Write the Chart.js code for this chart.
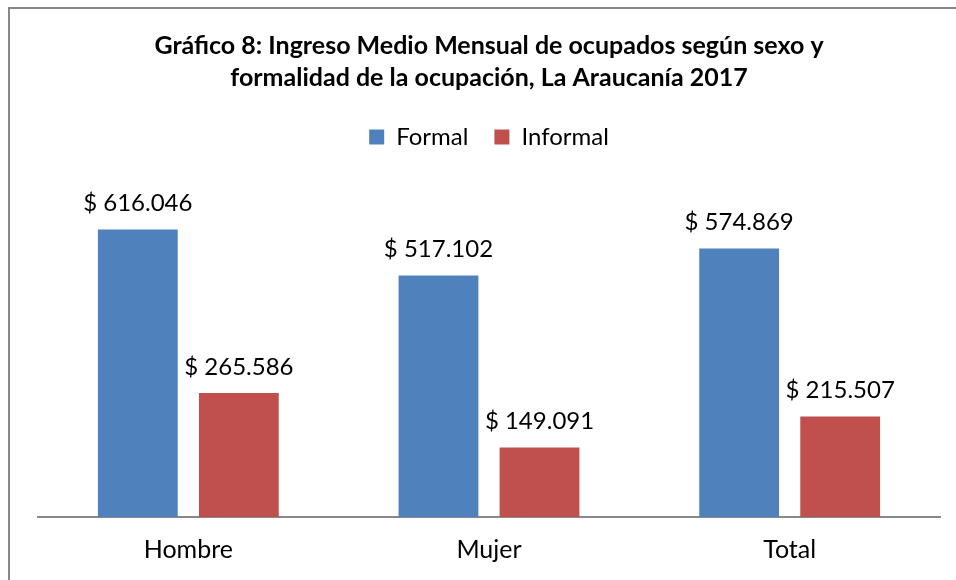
<!DOCTYPE html>
<html>
<head>
<meta charset="utf-8">
<script src="https://cdn.jsdelivr.net/npm/chart.js@4.4.0/dist/chart.umd.min.js"></script>
<style>
    html, body { margin: 0; padding: 0; background: #fff; }
    #wrap { position: relative; width: 956px; height: 580px; overflow: hidden; }
    #frame {
        position: absolute; left: 8px; top: 7px; width: 960px; height: 600px;
        border-left: 2px solid #888; border-top: 2px solid #888;
    }
    #income-chart { position: absolute; left: 0; top: 0; }
</style>
</head>
<body>
<div id="wrap">
    <div id="frame"></div>
    <canvas id="income-chart" width="956" height="583"></canvas>
</div>
<script>
const categories = ["Hombre", "Mujer", "Total"];
const formalValues = [616046, 517102, 574869];
const informalValues = [265586, 149091, 215507];
const seriesNames = ["Formal", "Informal"];

const FONT = "Lato, 'Open Sans', sans-serif";

function pesos(v) {
    return "$ " + String(v).replace(/\B(?=(\d{3})+(?!\d))/g, ".");
}

// draws the value above every bar
const valueLabels = {
    id: "valueLabels",
    afterDatasetsDraw(chart) {
        const ctx = chart.ctx;
        ctx.save();
        ctx.font = "24px " + FONT;
        ctx.fillStyle = "#000";
        ctx.textAlign = "center";
        ctx.textBaseline = "middle";
        chart.data.datasets.forEach((ds, i) => {
            chart.getDatasetMeta(i).data.forEach((bar, j) => {
                ctx.fillText(pesos(ds.data[j]), bar.x, bar.y - 26);
            });
        });
        ctx.restore();
    },
};

const chartCanvas = document.getElementById("income-chart");

const incomeChart = new Chart(chartCanvas, {
    type: "bar",
    data: {
        labels: categories,
        datasets: [
            {
                label: seriesNames[0],
                backgroundColor: "#4F81BD",
                data: formalValues,
            },
            {
                label: seriesNames[1],
                backgroundColor: "#C0504D",
                data: informalValues,
            },
        ],
    },
    options: {
        responsive: false,
        animation: false,
        categoryPercentage: 0.672,
        barPercentage: 0.79,
        scales: {
            x: {
                grid: { display: false, drawTicks: false },
                border: { display: true, color: "#888", width: 2 },
                ticks: {
                    color: "#000",
                    padding: 18,
                    font: { family: FONT, size: 25 },
                },
            },
            y: {
                display: false,
                min: 0,
                max: 766800,
            },
        },
        layout: {
            padding: { top: 0, left: 38, right: 16, bottom: 0 },
        },
        plugins: {
            title: {
                display: true,
                text: [
                    "Gráfico 8: Ingreso Medio Mensual de ocupados según sexo y",
                    "formalidad de la ocupación, La Araucanía 2017",
                ],
                color: "#000",
                font: { family: FONT, size: 25, weight: "bold", lineHeight: 1.28 },
                padding: { top: 30, bottom: 5 },
            },
            legend: {
                display: true,
                labels: {
                    color: "#000",
                    boxWidth: 15,
                    boxHeight: 15,
                    padding: 26,
                    font: { family: FONT, size: 24 },
                },
            },
            tooltip: { enabled: false },
        },
    },
    plugins: [valueLabels],
});
</script>
</body>
</html>
